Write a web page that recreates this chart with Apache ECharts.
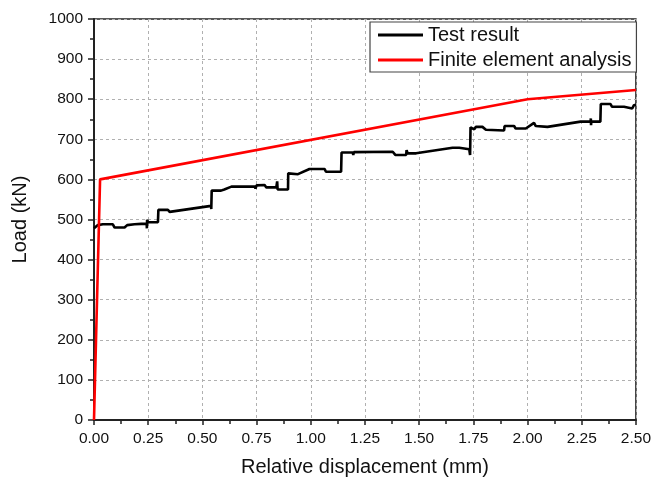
<!DOCTYPE html>
<html>
<head>
<meta charset="utf-8">
<script src="https://cdn.jsdelivr.net/npm/echarts@6/dist/echarts.min.js"></script>
<style>
  html, body { margin: 0; padding: 0; background: #fff; }
  #chart { width: 654px; height: 482px; }
</style>
</head>
<body>
<div id="chart"></div>
<script>
// Measured load–displacement curve (step-like record)
const testDisp = [
  0.000, 0.018, 0.041, 0.087, 0.095, 0.141, 0.153, 0.187, 0.195, 0.218,
  0.243, 0.244, 0.245, 0.250, 0.295, 0.297, 0.341, 0.349, 0.540, 0.541,
  0.543, 0.586, 0.601, 0.634, 0.742, 0.745, 0.750, 0.787, 0.790, 0.795,
  0.841, 0.845, 0.847, 0.895, 0.896, 0.941, 0.994, 1.064, 1.070, 1.140,
  1.142, 1.194, 1.196, 1.199, 1.378, 1.390, 1.440, 1.442, 1.447, 1.486,
  1.493, 1.654, 1.685, 1.731, 1.735, 1.737, 1.754, 1.762, 1.792, 1.808,
  1.892, 1.894, 1.938, 1.945, 1.992, 2.030, 2.038, 2.092, 2.245, 2.291,
  2.292, 2.293, 2.294, 2.336, 2.338, 2.383, 2.390, 2.445, 2.450, 2.483,
  2.491, 2.500
];
const testLoad = [
  478, 486, 488, 488, 480, 480, 486, 488, 492, 489,
  489, 478, 499, 493, 493, 524, 524, 519, 534, 526,
  572, 572, 575, 582, 582, 577, 585, 586, 590, 580,
  580, 595, 575, 575, 615, 613, 626, 626, 619, 619,
  667, 667, 661, 668, 669, 661, 661, 673, 665, 665,
  668, 679, 679, 675, 661, 730, 725, 731, 731, 724,
  722, 733, 733, 727, 727, 741, 733, 731, 744, 744,
  752, 735, 744, 744, 788, 788, 781, 781, 777, 777,
  785, 786
];

// Finite element prediction
const feaDisp = [0, 0.028, 2.0, 2.5];
const feaLoad = [0, 600, 800, 823];

const seriesNames = ['Test result', 'Finite element analysis'];
const xTitle = 'Relative displacement (mm)';
const yTitle = 'Load (kN)';

const zip = (xs, ys) => xs.map((x, i) => [x, ys[i]]);

const chart = echarts.init(document.getElementById('chart'), null, { renderer: 'canvas' });
const font = 'Liberation Sans, Arial, sans-serif';

chart.setOption({
  animation: false,
  backgroundColor: '#ffffff',
  textStyle: { fontFamily: font },
  grid: {
    left: 94, right: 17, top: 19, bottom: 62,
    show: true, borderColor: '#222', borderWidth: 1.5, backgroundColor: 'transparent'
  },
  legend: {
    orient: 'vertical',
    left: 370, top: 22,
    padding: [3, 5, 2, 8],
    itemGap: 5,
    itemWidth: 45,
    itemHeight: 3,
    icon: 'rect',
    borderColor: '#444',
    borderWidth: 1.2,
    backgroundColor: '#fff',
    textStyle: { fontFamily: font, fontSize: 20, color: '#111', lineHeight: 20 },
    data: seriesNames
  },
  xAxis: {
    type: 'value', min: 0, max: 2.5, interval: 0.25,
    name: xTitle, nameLocation: 'middle', nameGap: 37,
    nameTextStyle: { fontFamily: font, fontSize: 20, color: '#111' },
    axisLine: { show: true, onZero: false, lineStyle: { color: '#222', width: 2 } },
    axisTick: { show: true, inside: false, length: 5, lineStyle: { color: '#222', width: 1.5 } },
    minorTick: { show: true, splitNumber: 2, length: 4, lineStyle: { color: '#222', width: 1.5 } },
    axisLabel: { fontFamily: font, fontSize: 15.5, color: '#111', margin: 11,
                 formatter: v => v.toFixed(2) },
    splitLine: { show: true, lineStyle: { color: '#b0b0b0', type: [3, 3], width: 1 } }
  },
  yAxis: {
    type: 'value', min: 0, max: 1000, interval: 100,
    name: yTitle, nameLocation: 'middle', nameGap: 64,
    nameTextStyle: { fontFamily: font, fontSize: 20, color: '#111' },
    axisLine: { show: true, onZero: false, lineStyle: { color: '#222', width: 2 } },
    axisTick: { show: true, inside: false, length: 6, lineStyle: { color: '#222', width: 1.5 } },
    minorTick: { show: true, splitNumber: 2, length: 4, lineStyle: { color: '#222', width: 1.5 } },
    axisLabel: { fontFamily: font, fontSize: 15.5, color: '#111', margin: 11,
                 formatter: v => String(v) },
    splitLine: { show: true, lineStyle: { color: '#b0b0b0', type: [3, 3], width: 1 } }
  },
  series: [
    {
      name: seriesNames[0], type: 'line', data: zip(testDisp, testLoad),
      symbol: 'none', clip: false,
      lineStyle: { color: '#000', width: 2.6 }, itemStyle: { color: '#000' }
    },
    {
      name: seriesNames[1], type: 'line', data: zip(feaDisp, feaLoad),
      symbol: 'none', clip: false,
      lineStyle: { color: '#ff0000', width: 2.6 }, itemStyle: { color: '#ff0000' }
    }
  ]
});
</script>
</body>
</html>
